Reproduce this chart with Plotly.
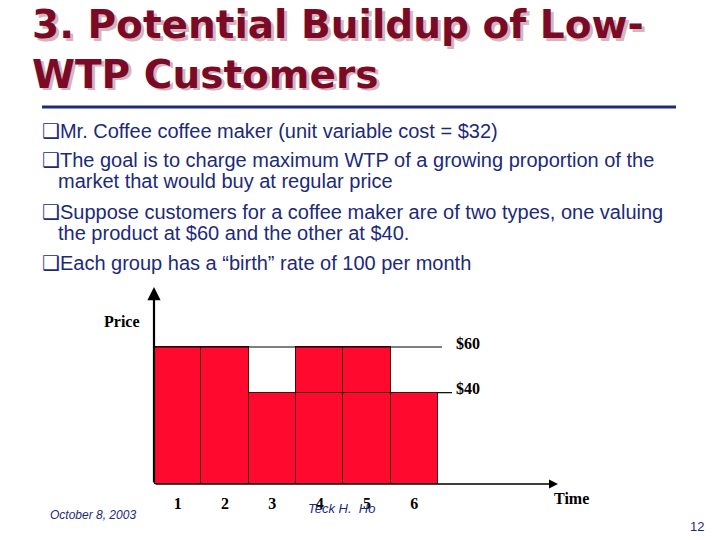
import plotly.graph_objects as go

# ---- data ----
periods = [1, 2, 3, 4, 5, 6]
tick_labels = ["1", "2", "3", "4", "5", "6"]
price_base = [60, 60, 40, 40, 40, 40]      # lower block of each month
price_top = [None, None, None, 20, 20, None]  # extra block (40 -> 60)
price_levels = [60, 40]
price_level_labels = ["$60", "$40"]

title_lines = ["3. Potential Buildup of Low-", "WTP Customers"]
bullets = [
    ("\u2751Mr. Coffee coffee maker (unit variable cost = $32)", True),
    ("\u2751The goal is to charge maximum WTP of a growing proportion of the", True),
    ("market that would buy at regular price", False),
    ("\u2751Suppose customers for a coffee maker are of two types, one valuing", True),
    ("the product at $60 and the other at $40.", False),
    ("\u2751Each group has a \u201cbirth\u201d rate of 100 per month", True),
]

W, H = 720, 540
def px(x):
    return x / W
def py(y):
    return 1 - y / H

RED = "#ff0a2e"
EDGE = "#4a0010"
NAVY = "#1c2a7a"
MAROON = "#7a0a26"

X0, X1 = 0.5, 0.5 + (558 - 154) / 47.33
YTOP = (484 - 287) / (137 / 60)

fig = go.Figure()
fig.add_trace(go.Bar(x=periods, y=price_base, marker=dict(color=RED, line=dict(color=EDGE, width=1)),
                     width=1, showlegend=False, hoverinfo="skip"))
fig.add_trace(go.Bar(x=periods, y=price_top, marker=dict(color=RED, line=dict(color=EDGE, width=1)),
                     width=1, showlegend=False, hoverinfo="skip"))

fig.update_layout(
    width=W, height=H, margin=dict(l=0, r=0, t=0, b=0),
    paper_bgcolor="white", plot_bgcolor="rgba(0,0,0,0)",
    barmode="stack", bargap=0,
    xaxis=dict(domain=[px(154), px(558)], range=[X0, X1], showgrid=False, zeroline=False,
               showline=False, tickmode="array", tickvals=periods,
               ticktext=["<b>" + t + "</b>" for t in tick_labels],
               ticks="", ticklabelstandoff=8,
               tickfont=dict(family="Liberation Serif", size=16, color="black")),
    yaxis=dict(domain=[py(484), py(287)], range=[0, YTOP], showgrid=False, zeroline=False,
               showline=False, showticklabels=False, ticks=""),
    font=dict(family="Liberation Sans"),
)

# price reference lines
fig.add_shape(type="line", xref="x", yref="y", x0=X0, x1=X0 + (442 - 154) / 47.33,
              y0=price_levels[0], y1=price_levels[0], line=dict(color="black", width=1.2))
fig.add_shape(type="line", xref="x", yref="y", x0=6.5, x1=6.5 + (452 - 438) / 47.33,
              y0=price_levels[1], y1=price_levels[1], line=dict(color="black", width=1.2))
for lvl, lab in zip(price_levels, price_level_labels):
    fig.add_annotation(xref="paper", yref="y", x=px(454), y=lvl, yshift=4, text="<b>" + lab + "</b>",
                       showarrow=False, xanchor="left", yanchor="middle",
                       font=dict(family="Liberation Serif", size=16, color="black"))

# axes with arrows
fig.add_annotation(xref="x", yref="y", axref="x", ayref="y", x=X0, y=YTOP, ax=X0, ay=0,
                   text="", showarrow=True, arrowhead=2, arrowsize=1.2, arrowwidth=2.2,
                   arrowcolor="black", standoff=0, startstandoff=0)
fig.add_annotation(xref="x", yref="y", axref="x", ayref="y", x=X1, y=0, ax=X0, ay=0,
                   text="", showarrow=True, arrowhead=2, arrowsize=1.2, arrowwidth=1.5,
                   arrowcolor="black", standoff=0, startstandoff=0)

fig.add_annotation(xref="paper", yref="paper", x=px(102), y=py(321), text="<b>Price</b>",
                   showarrow=False, xanchor="left", yanchor="middle",
                   font=dict(family="Liberation Serif", size=16, color="black"))
fig.add_annotation(xref="paper", yref="paper", x=px(552), y=py(498), text="<b>Time</b>",
                   showarrow=False, xanchor="left", yanchor="middle",
                   font=dict(family="Liberation Serif", size=16, color="black"))

# title with shadow
title_y = [25, 74]
for line, ty in zip(title_lines, title_y):
    fig.add_annotation(xref="paper", yref="paper", x=px(30 + 2.5), y=py(ty + 2.5), text="<b>" + line + "</b>",
                       showarrow=False, xanchor="left", yanchor="middle",
                       font=dict(family="DejaVu Sans", size=39, color="#d8b4bc"))
    fig.add_annotation(xref="paper", yref="paper", x=px(30), y=py(ty), text="<b>" + line + "</b>",
                       showarrow=False, xanchor="left", yanchor="middle",
                       font=dict(family="DejaVu Sans", size=39, color=MAROON))

fig.add_shape(type="line", xref="paper", yref="paper", x0=px(42), x1=px(676), y0=py(107), y1=py(107),
              line=dict(color="#1f2a7c", width=3))

# bullets
bullet_y = [131, 160, 181, 212, 233, 263]
for (txt, first), by in zip(bullets, bullet_y):
    fig.add_annotation(xref="paper", yref="paper", x=px(40 if first else 56), y=py(by), text=txt,
                       showarrow=False, xanchor="left", yanchor="middle",
                       font=dict(family="Liberation Sans, DejaVu Sans", size=20, color=NAVY))

# footer
fig.add_annotation(xref="paper", yref="paper", x=px(48), y=py(515), text="<i>October 8, 2003</i>",
                   showarrow=False, xanchor="left", yanchor="middle",
                   font=dict(family="Liberation Sans", size=12, color=NAVY))
fig.add_annotation(xref="paper", yref="paper", x=px(341), y=py(508), text="<i>Teck H.  Ho</i>",
                   showarrow=False, xanchor="center", yanchor="middle",
                   font=dict(family="Liberation Sans", size=13, color=NAVY))
fig.add_annotation(xref="paper", yref="paper", x=px(706), y=py(526), text="12",
                   showarrow=False, xanchor="right", yanchor="middle",
                   font=dict(family="Liberation Sans", size=13, color=NAVY))

fig.write_html("out.html", config={"displayModeBar": False},
               post_script="document.body.style.margin='0px';document.body.style.overflow='hidden';")
